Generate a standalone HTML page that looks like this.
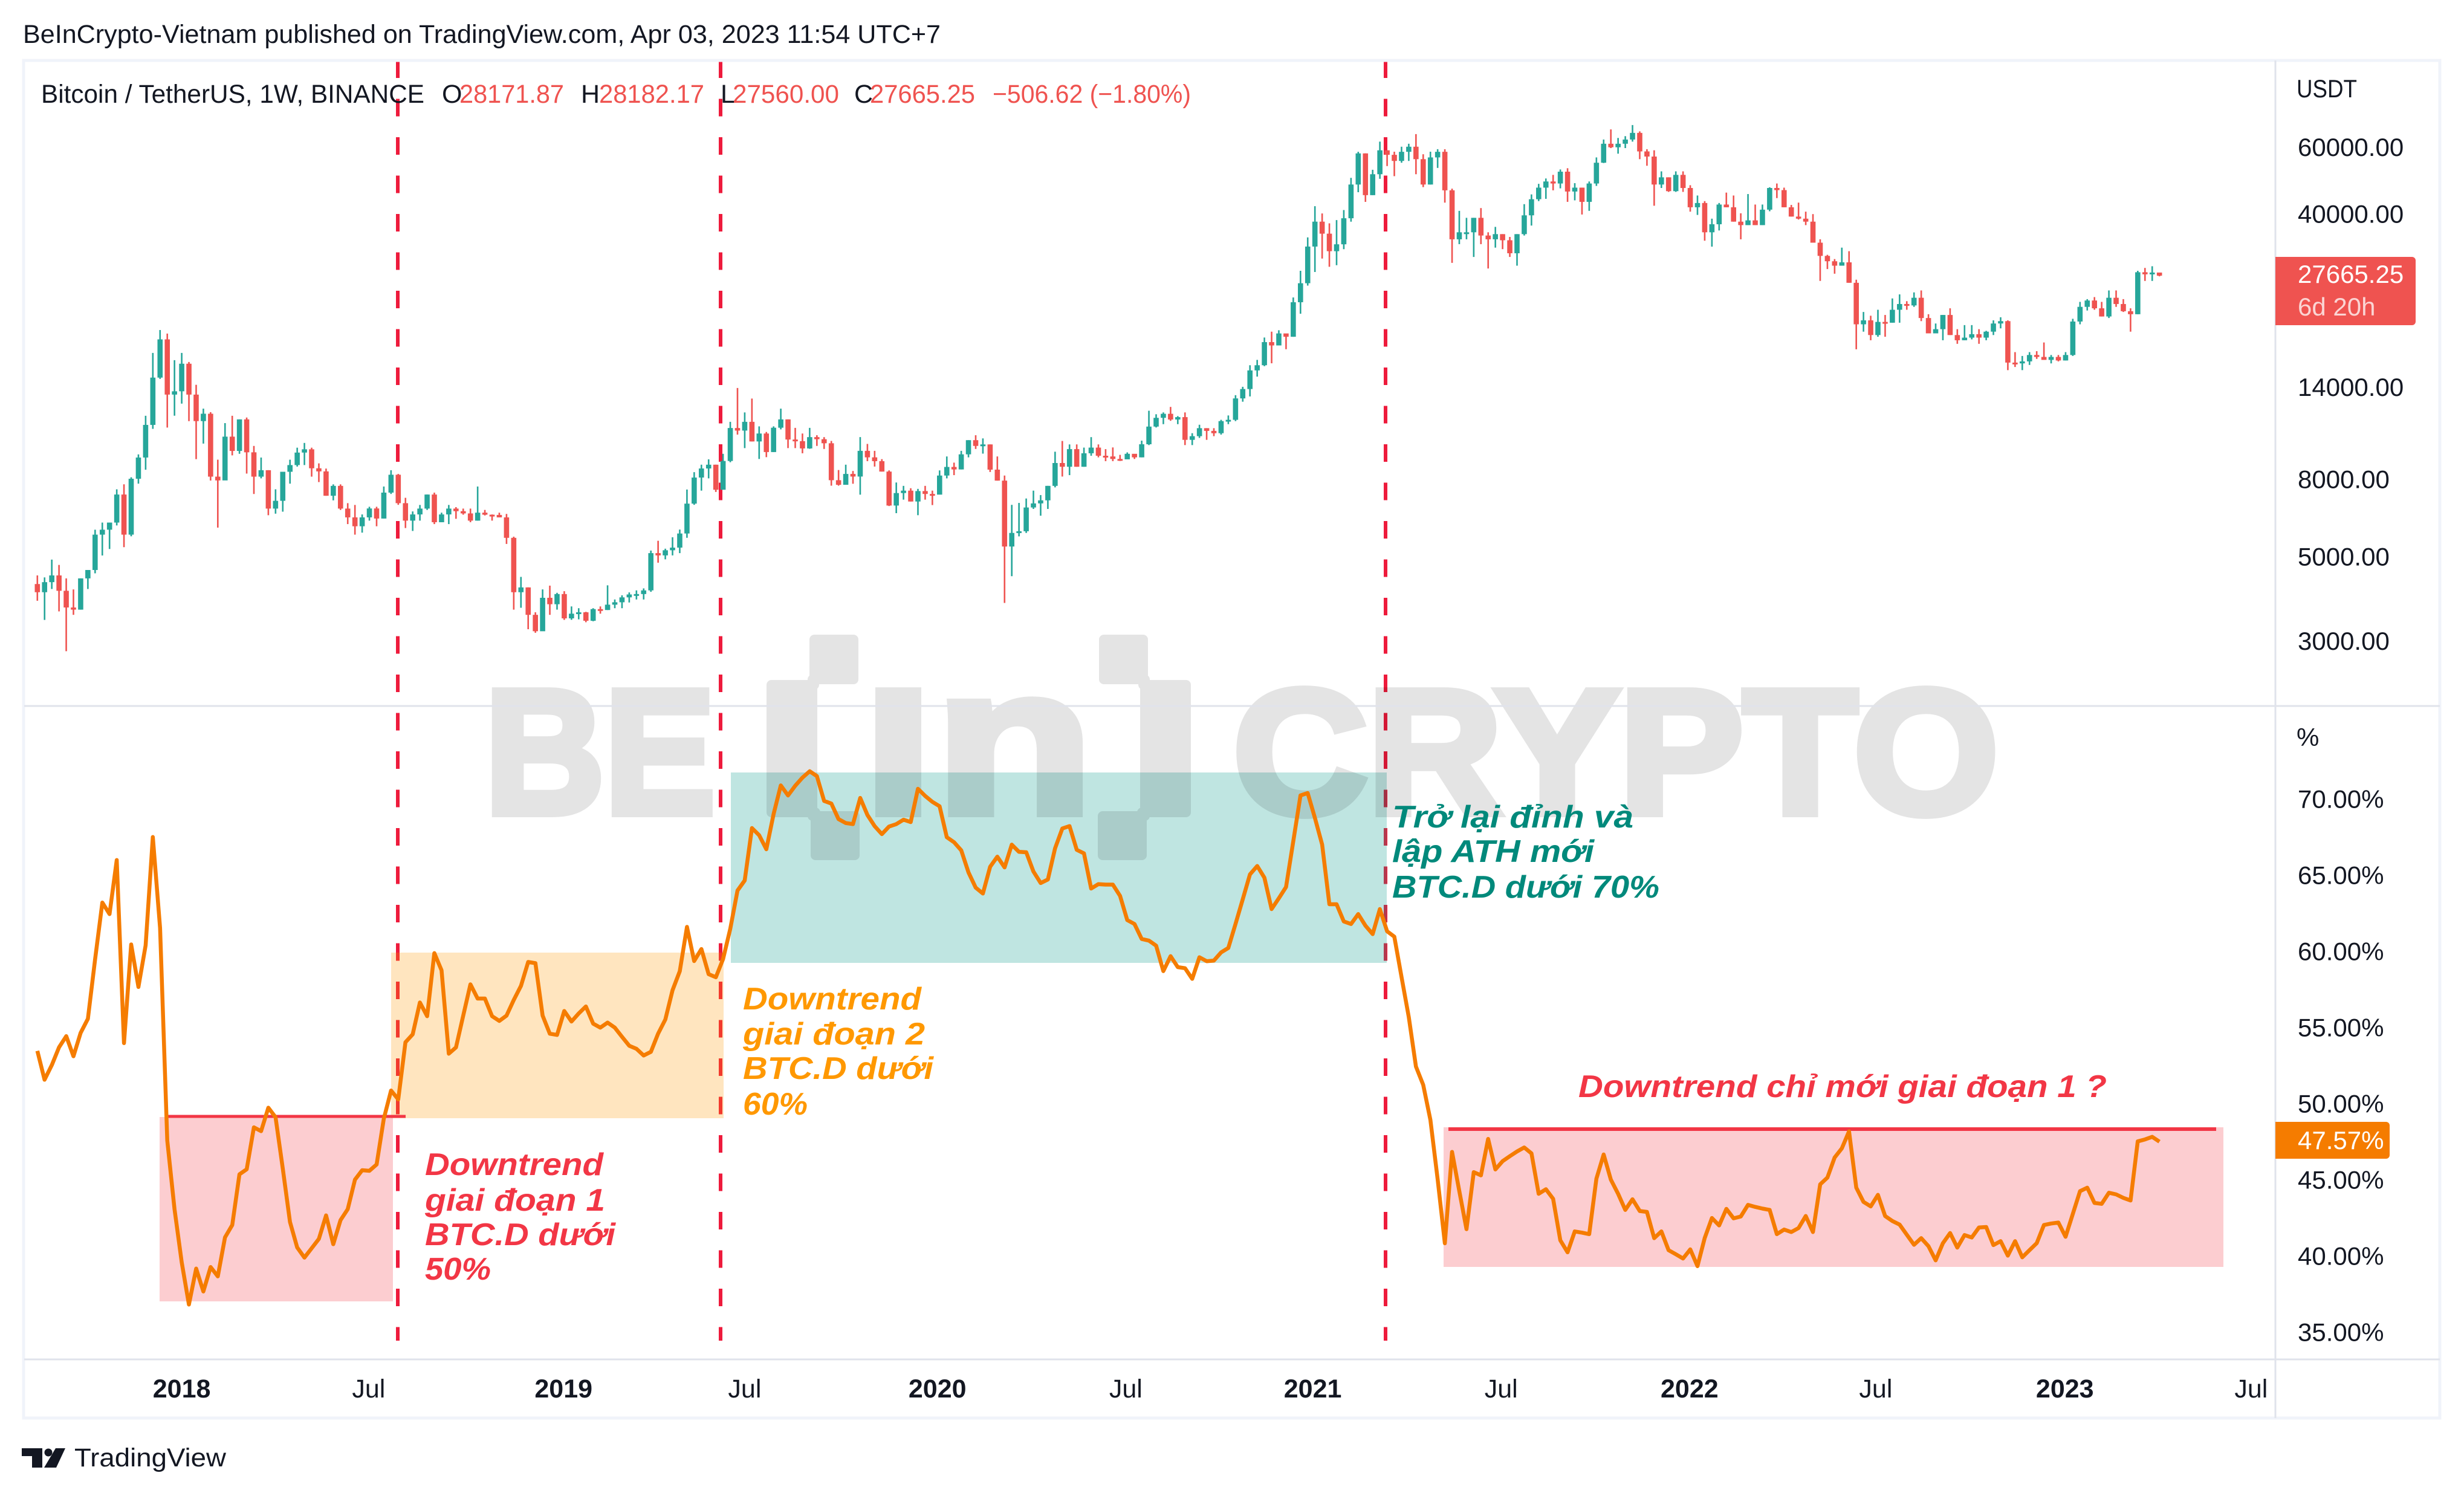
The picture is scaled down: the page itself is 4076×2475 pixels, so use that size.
<!DOCTYPE html>
<html lang="vi">
<head>
<meta charset="utf-8">
<title>BTCUSDT and BTC dominance weekly chart</title>
<style>
html,body{margin:0;padding:0;background:#fff;width:4076px;height:2475px;overflow:hidden}
svg{display:block;font-family:"Liberation Sans","DejaVu Sans",sans-serif}
.note{font-size:52px;font-style:italic;font-weight:700}
</style>
</head>
<body>
<svg id="chart" xmlns="http://www.w3.org/2000/svg" width="4076" height="2475" viewBox="0 0 4076 2475">
  <rect x="0" y="0" width="4076" height="2475" fill="#ffffff"/>
  <text x="38" y="71" font-size="43" fill="#131722" textLength="1518" lengthAdjust="spacingAndGlyphs">BeInCrypto-Vietnam published on TradingView.com, Apr 03, 2023 11:54 UTC+7</text>

  <g id="vlines">
    <line x1="658" y1="100" x2="658" y2="2218" stroke="#ee1b3c" stroke-width="6" stroke-dasharray="29 34.5"/>
    <line x1="1192" y1="100" x2="1192" y2="2218" stroke="#ee1b3c" stroke-width="6" stroke-dasharray="29 34.5"/>
    <line x1="2292" y1="100" x2="2292" y2="2218" stroke="#ee1b3c" stroke-width="6" stroke-dasharray="29 34.5"/>
  </g>

  <rect x="264" y="1848" width="386" height="305" fill="#f23645" fill-opacity="0.25"/>
  <rect x="647" y="1576" width="550" height="274" fill="#ff9800" fill-opacity="0.25"/>
  <rect x="1209" y="1278" width="1085" height="315" fill="#009688" fill-opacity="0.25"/>
  <rect x="2388" y="1865" width="1290" height="231" fill="#f23645" fill-opacity="0.25"/>

  <g opacity="0.1">
    <text x="802" y="1345" font-size="292" font-weight="700" fill="#000" stroke="#000" stroke-width="14" textLength="381" lengthAdjust="spacingAndGlyphs">BE</text>
    <path d="M1347,1058H1412V1124H1344V1350H1414V1415H1349V1344H1276V1133H1347Z" fill="#000" stroke="#000" stroke-width="16" stroke-linejoin="round"/>
    <path d="M1891,1058H1826V1124H1894V1350H1824V1415H1889V1344H1962V1133H1891Z" fill="#000" stroke="#000" stroke-width="16" stroke-linejoin="round"/>
    <text x="1431" y="1345" font-size="292" font-weight="700" fill="#000" stroke="#000" stroke-width="14" textLength="110" lengthAdjust="spacingAndGlyphs">I</text>
    <text x="1547" y="1345" font-size="345" font-weight="700" fill="#000" stroke="#000" stroke-width="14" textLength="262" lengthAdjust="spacingAndGlyphs">n</text>
    <text x="2040" y="1345" font-size="292" font-weight="700" fill="#000" stroke="#000" stroke-width="14" textLength="1266" lengthAdjust="spacingAndGlyphs">CRYPTO</text>
  </g>

  <g id="candles"></g>

  <line x1="275" y1="1847" x2="671" y2="1847" stroke="#f23645" stroke-width="5"/>
  <line x1="2396" y1="1868" x2="3666" y2="1868" stroke="#f23645" stroke-width="6"/>
  <g id="dominance"></g>

  <rect x="39" y="100" width="3997" height="2246" fill="none" stroke="#f0f3fa" stroke-width="5"/>
  <line x1="40" y1="1168" x2="4036" y2="1168" stroke="#e0e3eb" stroke-width="3"/>
  <line x1="40" y1="2249" x2="4036" y2="2249" stroke="#e0e3eb" stroke-width="3"/>
  <line x1="3764" y1="100" x2="3764" y2="2346" stroke="#e0e3eb" stroke-width="3"/>

  <g font-size="43">
    <text x="68" y="170" fill="#131722" textLength="634" lengthAdjust="spacingAndGlyphs">Bitcoin / TetherUS, 1W, BINANCE</text>
    <text x="731" y="170" fill="#131722">O</text>
    <text x="760" y="170" fill="#ef5350" textLength="173" lengthAdjust="spacingAndGlyphs">28171.87</text>
    <text x="961" y="170" fill="#131722">H</text>
    <text x="991" y="170" fill="#ef5350" textLength="174" lengthAdjust="spacingAndGlyphs">28182.17</text>
    <text x="1192" y="170" fill="#131722">L</text>
    <text x="1212" y="170" fill="#ef5350" textLength="176" lengthAdjust="spacingAndGlyphs">27560.00</text>
    <text x="1413" y="170" fill="#131722">C</text>
    <text x="1439" y="170" fill="#ef5350" textLength="174" lengthAdjust="spacingAndGlyphs">27665.25</text>
    <text x="1642" y="170" fill="#ef5350" textLength="328" lengthAdjust="spacingAndGlyphs">−506.62 (−1.80%)</text>
  </g>

  <text x="3799" y="161" font-size="42" fill="#131722" textLength="100" lengthAdjust="spacingAndGlyphs">USDT</text>
  <text x="3799" y="1234" font-size="42" fill="#131722">%</text>
  <g id="priceTicks" font-size="42" fill="#131722"></g>
  <g id="pctTicks" font-size="42" fill="#131722"></g>
  <g id="timeTicks" font-size="43" fill="#131722" text-anchor="middle"></g>

  <g>
    <path d="M3764,425H3990a6,6 0 0 1 6,6V532a6,6 0 0 1 -6,6H3764Z" fill="#ef5350"/>
    <text x="3801" y="468" font-size="42" fill="#ffffff">27665.25</text>
    <text x="3801" y="522" font-size="42" fill="#ffffff" fill-opacity="0.75">6d 20h</text>
  </g>
  <g>
    <path d="M3764,1856H3947a6,6 0 0 1 6,6V1911a6,6 0 0 1 -6,6H3764Z" fill="#f57c00"/>
    <text x="3801" y="1901" font-size="42" fill="#ffffff">47.57%</text>
  </g>

  <g class="note" fill="#f23645">
    <text x="703" y="1944" textLength="295" lengthAdjust="spacingAndGlyphs">Downtrend</text>
    <text x="703" y="2003" textLength="298" lengthAdjust="spacingAndGlyphs">giai đoạn 1</text>
    <text x="703" y="2060" textLength="315" lengthAdjust="spacingAndGlyphs">BTC.D dưới</text>
    <text x="703" y="2117" textLength="109" lengthAdjust="spacingAndGlyphs">50%</text>
  </g>
  <g class="note" fill="#ff9800">
    <text x="1229" y="1670" textLength="295" lengthAdjust="spacingAndGlyphs">Downtrend</text>
    <text x="1229" y="1728" textLength="301" lengthAdjust="spacingAndGlyphs">giai đoạn 2</text>
    <text x="1229" y="1785" textLength="315" lengthAdjust="spacingAndGlyphs">BTC.D dưới</text>
    <text x="1229" y="1844" textLength="107" lengthAdjust="spacingAndGlyphs">60%</text>
  </g>
  <g class="note" fill="#00897b">
    <text x="2303" y="1369" textLength="399" lengthAdjust="spacingAndGlyphs">Trở lại đỉnh và</text>
    <text x="2303" y="1426" textLength="334" lengthAdjust="spacingAndGlyphs">lập ATH mới</text>
    <text x="2303" y="1485" textLength="442" lengthAdjust="spacingAndGlyphs">BTC.D dưới 70%</text>
  </g>
  <text class="note" x="2611" y="1815" fill="#f23645" textLength="874" lengthAdjust="spacingAndGlyphs">Downtrend chỉ mới giai đoạn 1 ?</text>

  <g>
    <path d="M36,2396H70V2428H53V2409H36Z" fill="#131722"/>
    <circle cx="80" cy="2403" r="6.5" fill="#131722"/>
    <path d="M92,2396H108L93,2428H73Z" fill="#131722"/>
    <text x="123" y="2426" font-size="43" fill="#131722" textLength="251" lengthAdjust="spacingAndGlyphs">TradingView</text>
  </g>
</svg>

<script>
const firstOpen = 4261;
const closes = [
4055,4310,4490,4090,3696,3648,4410,4640,5750,5925,
6187,7334,5750,8071,9180,11190,14908,18800,13448,13720,
16220,13448,11450,11975,8175,7990,10420,9555,11570,9475,
8175,8500,6735,7060,8420,8770,9460,9650,8600,8440,
7280,7730,6735,6385,6050,6385,6740,6340,7420,8270,
6960,6260,6500,6735,7334,6200,6500,6735,6630,6540,
6260,6570,6490,6480,6385,5640,4055,4175,3535,3200,
3920,3770,4010,3460,3560,3590,3410,3660,3640,3760,
3815,3930,4000,4010,4100,5140,5070,5230,5315,5790,
6940,8130,8590,8790,7550,8990,10980,10810,11400,10120,
10620,9490,11000,11570,10240,10140,9700,10390,10260,10010,
8000,7780,8310,8180,9560,9190,8980,8430,6860,7400,
7510,7030,7490,7360,7330,8230,8670,8540,9360,10200,
9850,9940,8530,7980,5350,5810,5870,6780,6950,7080,
7730,8880,8680,9660,8680,9420,9750,9280,9240,9100,
9080,9390,9190,9950,11076,11680,11970,11560,11730,10220,
10450,10970,10790,10640,11450,11540,13140,13910,15574,16070,
18490,18120,19490,19100,23550,26430,33015,38400,35700,32100,
33470,39200,48100,58100,45100,51200,59200,57600,55500,58660,
60500,56100,48100,56700,58660,46440,34500,36000,36000,39300,
35300,34500,35600,34300,31700,35600,39900,44000,47200,49000,
48400,52000,46100,47200,43300,48400,54900,61600,60300,61600,
63200,65800,58800,57000,48100,50250,46200,51000,47100,41900,
43000,36000,37800,42600,41900,38400,37600,38700,37600,41300,
47100,46500,41900,39600,39100,38400,33800,31200,30200,29400,
30000,26500,20600,21100,19300,20900,20800,22500,23300,23100,
24200,21400,19500,20000,21800,19300,18700,19000,19400,19000,
19700,20700,21000,16330,16250,16450,17100,16900,16600,16900,
16540,17100,20950,22900,23800,22700,21600,24200,23300,22300,
21900,28250,27900,28200,27665.25];
const highs = [
4490,4437,4942,4786,4410,4124,4410,4640,5925,6187,
6187,7570,7804,8143,9356,11824,17318,19900,19475,16570,
17318,16390,14270,12350,12090,9060,11310,11824,11570,11700,
9850,9180,8500,7570,8420,9060,9745,10030,9745,8860,
8585,7800,7800,6960,6885,6500,6810,6810,7700,8500,
8310,7190,6620,6885,7334,7420,6570,6885,6795,6735,
6735,7700,6680,6500,6570,6520,5680,4450,4175,3590,
4124,4220,4040,4080,3720,3680,3600,3680,3720,4228,
3880,3980,4050,4100,4150,5220,5540,5280,5660,5930,
7560,8400,8790,9080,8790,9390,11400,14000,12070,13130,
11090,10720,11090,12350,11570,10990,10620,10990,10510,10390,
10150,8510,8790,8460,10390,9970,9560,9090,8490,7890,
7730,7620,7590,7730,7510,8490,9240,8900,9560,10200,
10510,10310,9940,9240,8230,6890,6970,7160,7510,7310,
7730,9510,10150,9940,9940,9750,10390,9940,9660,9760,
9330,9470,9330,10170,12194,11936,12070,12480,11800,12070,
10640,11200,10970,10970,11540,11850,13400,14100,16070,16600,
19014,19700,19870,19440,24240,28500,34900,42184,40360,38000,
38770,41200,50075,58660,58100,52600,62400,59200,58700,60500,
61600,65300,57800,58700,59600,59600,46900,41000,39300,39300,
41700,36000,37200,35600,35000,35600,42700,45300,48300,49900,
51000,52700,53100,48500,47200,49000,56700,63200,67200,63800,
64500,69000,66400,59600,59200,52100,50250,52100,52100,47900,
45000,43500,39100,43000,45800,45000,40400,45400,42600,42600,
47300,48400,47200,42500,43100,40800,40200,34500,31400,30600,
32800,32100,27000,22200,21700,22500,21800,24100,24700,23700,
25000,25300,21900,20700,21800,22700,20000,20500,20500,20000,
19800,21100,21500,21100,17400,17000,17400,17500,18450,17100,
17100,17400,21300,23600,24000,24300,23600,25300,25300,24000,
22700,28500,29000,29300,28182.17];
const lows = [
3850,3428,4135,3610,2835,3535,3648,4135,4547,5067,
5270,6080,5330,5693,7835,8525,10927,14790,11010,11830,
12730,11450,9090,9990,7985,6000,8010,9300,9390,8330,
7360,8090,6470,6530,6610,7835,8690,8770,8175,7910,
7280,7080,6680,6130,5750,5820,6260,6050,6340,7360,
6890,5985,5880,6260,6680,6130,6200,6130,6330,6490,
6200,6260,6460,6260,6385,5435,3648,3690,3240,3170,
3210,3535,3648,3428,3430,3440,3380,3400,3560,3640,
3680,3680,3810,3880,3880,4065,4850,4950,5070,5140,
5640,6890,7510,8090,7450,7570,8920,10550,9720,10120,
9100,9200,9490,10890,9720,9720,9420,9680,9850,9670,
7740,7740,7830,7830,7330,8980,8690,8430,6840,6550,
7110,7030,6470,7110,6880,7360,8090,8250,8540,9190,
9670,9400,8410,7980,3800,4470,5690,5810,6720,6450,
6720,7660,8180,8250,8680,8680,9280,9190,8980,8980,
8990,9120,9100,9190,9900,11016,11240,11470,11240,9900,
9900,10340,10220,10450,10550,11240,11450,12880,13300,15000,
15980,16260,18120,17710,19100,21970,26050,28290,30700,29200,
29490,32500,38400,45900,43300,45100,49800,53800,50600,54900,
55500,51200,47350,48100,53200,43100,29900,33500,34500,31000,
33500,28900,32800,32500,31000,29400,35300,37500,43500,44100,
46440,47000,43300,43700,40100,41000,47700,54800,60000,58000,
60000,62400,56100,53900,42300,47100,46000,46000,46000,40800,
40000,34200,33000,36400,41900,38400,34500,37600,37600,37600,
40900,44300,41900,39600,38900,37600,33800,26800,28800,28000,
29400,26500,17700,19700,18700,19100,19100,20800,20800,22500,
22900,21000,19500,19500,18700,19300,18300,18700,18800,18300,
18700,19300,20100,15600,15900,15600,16100,16700,16600,16250,
16450,16540,17000,20600,22400,22500,21600,21400,22900,22200,
19700,21900,26800,26800,27560];
const dominancePct = [
53.53,51.64,52.6,53.76,54.5,53.18,54.72,55.64,59.54,63.27,
62.51,66.06,54.04,60.52,57.73,60.46,67.57,61.6,47.65,43.14,
39.65,36.88,39.24,37.74,39.34,38.73,41.29,42.1,45.43,45.76,
48.51,48.26,49.8,49.18,45.8,42.3,40.63,39.96,40.57,41.19,
42.73,40.84,42.42,43.14,45.08,45.7,45.66,46.07,49.08,50.93,
50.35,54.1,54.62,56.71,55.81,59.95,58.82,53.35,53.76,55.85,
57.9,56.97,56.97,55.81,55.5,55.85,56.87,57.8,59.37,59.29,
55.85,54.66,54.58,56.15,55.46,55.99,56.45,55.32,55.06,55.39,
55.06,54.46,53.87,53.67,53.23,53.47,54.66,55.59,57.51,58.76,
61.67,59.43,60.22,58.57,58.37,59.56,61.54,64.06,64.72,68.16,
67.69,66.77,69.08,70.96,70.3,70.94,71.47,71.89,71.57,69.94,
69.77,68.75,68.49,68.42,70.14,69.02,68.29,67.76,68.26,68.42,
68.71,68.55,70.74,70.27,69.88,69.59,67.56,67.23,66.7,65.25,
64.25,63.86,65.62,66.28,65.58,67.07,66.6,66.57,65.31,64.55,
64.78,66.83,68.13,68.29,66.73,66.5,64.19,64.48,64.45,64.45,
63.71,62.12,61.86,60.88,60.77,60.44,58.77,59.75,59.03,58.96,
58.26,59.68,59.42,59.46,60,60.29,61.86,63.49,65.12,65.67,
64.9,62.84,63.55,64.29,67.3,70.3,70.46,68.82,67.08,63.16,
63.16,62.03,61.86,62.51,61.75,61.2,62.84,61.38,61.03,58.37,
55.76,52.5,51.3,49,45.1,40.9,46.9,44.33,41.83,45.57,
45.36,47.75,45.75,46.29,46.62,46.93,47.19,46.8,44.15,44.45,
43.82,41.1,40.31,41.68,41.6,41.5,45.14,46.73,45.08,44.15,
43.09,43.79,43.02,42.96,41.24,41.68,40.45,40.18,39.9,40.5,
39.4,41.24,42.56,42.07,43.16,42.54,42.66,43.42,43.29,43.18,
43.09,41.5,41.8,41.64,41.9,42.69,41.64,44.77,45.21,46.53,
47.13,48.25,44.55,43.62,43.32,44.08,42.69,42.36,42.13,41.46,
40.8,41.24,40.71,39.78,40.91,41.57,40.62,41.44,41.28,41.94,
41.97,40.78,41.04,40.09,41.04,39.98,40.45,40.91,42.1,42.2,
42.26,41.33,42.83,44.32,44.55,43.55,43.49,44.22,44.11,43.88,
43.71,47.59,47.72,47.89,47.57];
const priceTickValues = [60000,40000,14000,8000,5000,3000];
const pctTickValues = [70,65,60,55,50,45,40,35];
const timeTickLabels = ["2018","Jul","2019","Jul","2020","Jul","2021","Jul","2022","Jul","2023","Jul"];
const timeTickWeeks = [20,45.9,72.9,98,124.7,150.8,176.7,202.8,228.9,254.7,280.9,306.7];

const SVGNS = "http://www.w3.org/2000/svg";
function xWeek(i){ return 61.8 + 11.94 * i; }
function yPrice(p){ return 245 + 272.7 * Math.log(60000 / p); }
function yPct(v){ return 1323.6 + (70 - v) * 25.2; }

const candleLayer = document.getElementById("candles");
closes.forEach(function(close, i){
  const open = i === 0 ? firstOpen : closes[i - 1];
  const color = close >= open ? "#26a69a" : "#ef5350";
  const cx = xWeek(i);
  const wick = document.createElementNS(SVGNS, "line");
  wick.setAttribute("x1", cx);
  wick.setAttribute("x2", cx);
  wick.setAttribute("y1", yPrice(highs[i]));
  wick.setAttribute("y2", yPrice(lows[i]));
  wick.setAttribute("stroke", color);
  wick.setAttribute("stroke-width", "2.6");
  
  
  candleLayer.appendChild(wick);
  const top = Math.min(yPrice(open), yPrice(close));
  const h = Math.max(Math.abs(yPrice(open) - yPrice(close)), 3);
  const body = document.createElementNS(SVGNS, "rect");
  body.setAttribute("x", cx - 4.3);
  body.setAttribute("y", top);
  body.setAttribute("width", "8.6");
  body.setAttribute("height", h);
  body.setAttribute("fill", color);
  
  
  candleLayer.appendChild(body);
});

const dominanceLayer = document.getElementById("dominance");
const dominanceLine = document.createElementNS(SVGNS, "polyline");
dominanceLine.setAttribute("points", dominancePct.map(function(v, i){ return xWeek(i).toFixed(1) + "," + yPct(v).toFixed(1); }).join(" "));
dominanceLine.setAttribute("fill", "none");
dominanceLine.setAttribute("stroke", "#f57c00");
dominanceLine.setAttribute("stroke-width", "6.5");
dominanceLine.setAttribute("stroke-linejoin", "round");


dominanceLayer.appendChild(dominanceLine);

const priceTickLayer = document.getElementById("priceTicks");
priceTickValues.forEach(function(v){
  const t = document.createElementNS(SVGNS, "text");
  t.setAttribute("x", "3801");
  t.setAttribute("y", yPrice(v) + 13);
  t.textContent = v.toFixed(2);
  
  
  priceTickLayer.appendChild(t);
});

const pctTickLayer = document.getElementById("pctTicks");
pctTickValues.forEach(function(v){
  const t = document.createElementNS(SVGNS, "text");
  t.setAttribute("x", "3801");
  t.setAttribute("y", yPct(v) + 13);
  t.textContent = v.toFixed(2) + "%";
  
  
  pctTickLayer.appendChild(t);
});

const timeTickLayer = document.getElementById("timeTicks");
timeTickLabels.forEach(function(label, k){
  const t = document.createElementNS(SVGNS, "text");
  t.setAttribute("x", xWeek(timeTickWeeks[k]));
  t.setAttribute("y", "2312");
  if (label !== "Jul") { t.setAttribute("font-weight", "700"); }
  t.textContent = label;
  
  
  timeTickLayer.appendChild(t);
});
</script>
</body>
</html>
